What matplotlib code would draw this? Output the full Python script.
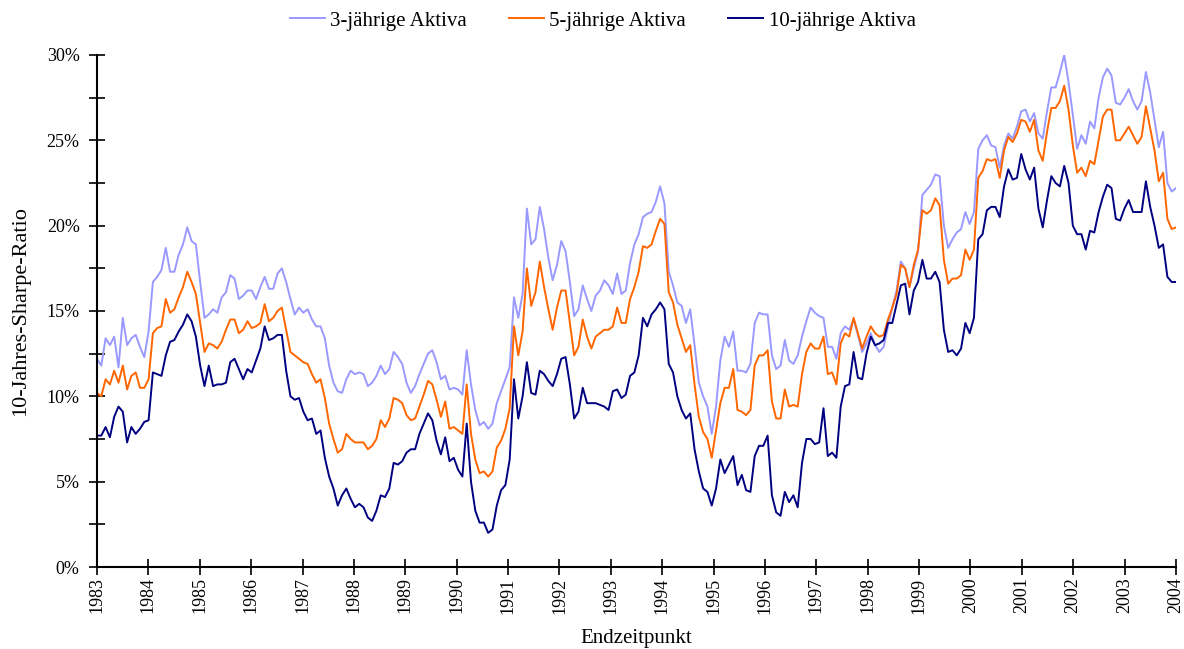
import numpy as np
import matplotlib
matplotlib.use("Agg")
import matplotlib.pyplot as plt
from matplotlib.ticker import MultipleLocator, FuncFormatter

# 10-year Sharpe ratios in %, monthly end dates Jan 1983 .. Jan 2004
aktiva_3j = [
    12.2, 11.8, 13.4, 13.0, 13.5, 11.7, 14.6, 13.0, 13.4, 13.6, 12.9, 12.3,
    13.8, 16.7, 17.0, 17.4, 18.7, 17.3, 17.3, 18.3, 18.9, 19.9, 19.1, 18.9,
    16.7, 14.6, 14.8, 15.1, 14.9, 15.8, 16.1, 17.1, 16.9, 15.7, 15.9, 16.2,
    16.2, 15.7, 16.4, 17.0, 16.3, 16.3, 17.2, 17.5, 16.7, 15.7, 14.8, 15.2,
    14.9, 15.1, 14.5, 14.1, 14.1,
    13.4, 11.8, 10.8, 10.3, 10.2, 11.0, 11.5, 11.3, 11.4, 11.3, 10.6, 10.8,
    11.2, 11.8, 11.3, 11.6, 12.6, 12.3, 11.9, 10.8, 10.2, 10.6, 11.3, 11.9,
    12.5, 12.7, 12.0, 11.0, 11.2, 10.4, 10.5, 10.4, 10.1, 12.7, 10.7, 9.2,
    8.3, 8.5, 8.1, 8.4, 9.6, 10.3, 11.0, 11.7,
    15.8, 14.6, 16.0, 21.0, 18.9, 19.2, 21.1, 19.8, 18.1, 16.8, 17.7, 19.1,
    18.5, 16.7, 14.7, 15.1, 16.5, 15.7, 15.0, 15.9, 16.2, 16.8, 16.5, 16.0,
    17.2, 16.0, 16.2, 17.8, 18.9, 19.5, 20.5, 20.7, 20.8, 21.4, 22.3, 21.3,
    17.3, 16.5, 15.5, 15.3, 14.3, 15.1, 13.0, 10.8, 10.0, 9.4, 7.8, 9.4,
    12.1, 13.5, 12.9, 13.8, 11.5,
    11.5, 11.4, 11.9, 14.3, 14.9, 14.8, 14.8, 12.4, 11.6, 11.8, 13.3, 12.1,
    11.9, 12.4, 13.5, 14.4, 15.2, 14.9, 14.7, 14.6, 12.9, 12.9, 12.2, 13.7,
    14.1, 13.9, 14.5, 13.6, 12.6, 13.1, 13.7, 13.0, 12.6, 12.9, 14.1, 15.2,
    16.2, 17.9, 17.5, 16.4, 17.5, 18.5, 21.8, 22.1, 22.4, 23.0, 22.9, 20.0,
    18.7,
    19.2, 19.6, 19.8, 20.8, 20.1, 20.8, 24.5, 25.0, 25.3, 24.7, 24.6, 23.4,
    24.7, 25.4, 25.1, 25.8, 26.7, 26.8, 26.1, 26.6, 25.4, 25.1, 26.7, 28.1,
    28.1, 29.0, 30.0, 28.4, 26.5, 24.5, 25.3, 24.8, 26.1, 25.7, 27.5, 28.7,
    29.2, 28.8, 27.2, 27.1, 27.5, 28.0, 27.3, 26.8, 27.3, 29.0, 27.8, 26.2,
    24.6, 25.5, 22.5, 22.0, 22.2,
]

aktiva_5j = [
    10.2, 10.0, 11.0, 10.7, 11.5, 10.8, 11.8, 10.4, 11.2, 11.4, 10.5, 10.5,
    11.0, 13.7, 14.0, 14.1, 15.7, 14.9, 15.1, 15.8, 16.4, 17.3, 16.7, 16.0,
    14.3, 12.6, 13.1, 13.0, 12.8, 13.2, 13.9, 14.5, 14.5, 13.7, 13.9, 14.4,
    14.0, 14.1, 14.3, 15.4, 14.4, 14.6, 15.0, 15.2, 13.9, 12.6, 12.4, 12.2,
    12.0, 11.9, 11.3, 10.8, 11.0,
    9.9, 8.4, 7.5, 6.7, 6.9, 7.8, 7.5, 7.3, 7.3, 7.3, 6.9, 7.1,
    7.5, 8.6, 8.2, 8.7, 9.9, 9.8, 9.6, 8.9, 8.6, 8.7, 9.4, 10.1,
    10.9, 10.7, 9.8, 8.8, 9.7, 8.1, 8.2, 8.0, 7.8, 10.7, 7.8, 6.3,
    5.5, 5.6, 5.3, 5.6, 7.0, 7.4, 8.1, 9.3,
    14.1, 12.4, 13.8, 17.5, 15.3, 16.1, 17.9, 16.4, 15.1, 13.9, 15.2, 16.2,
    16.2, 14.3, 12.4, 12.9, 14.5, 13.5, 12.8, 13.5, 13.7, 13.9, 13.9, 14.1,
    15.2, 14.3, 14.3, 15.7, 16.4, 17.3, 18.8, 18.7, 18.9, 19.7, 20.4, 20.1,
    16.1, 15.5, 14.2, 13.4, 12.6, 13.0, 10.7, 8.8, 7.9, 7.5, 6.4, 8.0,
    9.6, 10.5, 10.5, 11.6, 9.2,
    9.1, 8.9, 9.2, 11.8, 12.4, 12.4, 12.7, 9.7, 8.7, 8.7, 10.4, 9.4,
    9.5, 9.4, 11.3, 12.6, 13.1, 12.8, 12.8, 13.5, 11.3, 11.4, 10.7, 13.1,
    13.7, 13.5, 14.6, 13.7, 12.8, 13.5, 14.1, 13.7, 13.5, 13.6, 14.5, 15.2,
    16.0, 17.7, 17.5, 16.4, 17.7, 18.6, 20.9, 20.7, 20.9, 21.6, 21.2, 18.0,
    16.6,
    16.9, 16.9, 17.1, 18.6, 18.0, 18.6, 22.8, 23.2, 23.9, 23.8, 23.9, 22.8,
    24.4, 25.2, 24.9, 25.4, 26.2, 26.1, 25.5, 26.2, 24.4, 23.8, 25.5, 26.9,
    26.9, 27.3, 28.2, 26.8, 24.7, 23.1, 23.4, 22.9, 23.8, 23.6, 25.0, 26.4,
    26.8, 26.8, 25.0, 25.0, 25.4, 25.8, 25.3, 24.8, 25.2, 27.0, 25.7, 24.4,
    22.6, 23.1, 20.4, 19.8, 19.9,
]

aktiva_10j = [
    7.7, 7.7, 8.2, 7.6, 8.8, 9.4, 9.1, 7.3, 8.2, 7.8, 8.1, 8.5,
    8.6, 11.4, 11.3, 11.2, 12.4, 13.2, 13.3, 13.8, 14.2, 14.8, 14.4, 13.5,
    11.8, 10.6, 11.8, 10.6, 10.7, 10.7, 10.8, 12.0, 12.2, 11.6, 11.0, 11.6,
    11.4, 12.1, 12.8, 14.1, 13.3, 13.4, 13.6, 13.6, 11.5, 10.0, 9.8, 9.9,
    9.1, 8.6, 8.7, 7.8, 8.0,
    6.4, 5.3, 4.6, 3.6, 4.2, 4.6, 4.0, 3.5, 3.7, 3.5, 2.9, 2.7,
    3.3, 4.2, 4.1, 4.6, 6.1, 6.0, 6.2, 6.7, 6.9, 6.9, 7.8, 8.4,
    9.0, 8.6, 7.4, 6.6, 7.6, 6.2, 6.4, 5.7, 5.3, 8.4, 5.0, 3.3,
    2.6, 2.6, 2.0, 2.2, 3.6, 4.5, 4.8, 6.3,
    11.0, 8.7, 10.0, 12.0, 10.2, 10.1, 11.5, 11.3, 10.9, 10.6, 11.3, 12.2,
    12.3, 10.7, 8.7, 9.1, 10.5, 9.6, 9.6, 9.6, 9.5, 9.4, 9.2, 10.3,
    10.4, 9.9, 10.1, 11.2, 11.4, 12.4, 14.6, 14.1, 14.8, 15.1, 15.5, 15.1,
    11.9, 11.4, 10.0, 9.2, 8.7, 9.0, 6.9, 5.6, 4.6, 4.4, 3.6, 4.6,
    6.3, 5.5, 6.0, 6.5, 4.8,
    5.4, 4.5, 4.4, 6.5, 7.1, 7.1, 7.7, 4.2, 3.2, 3.0, 4.4, 3.8,
    4.2, 3.5, 6.1, 7.5, 7.5, 7.2, 7.3, 9.3, 6.5, 6.7, 6.4, 9.4,
    10.6, 10.7, 12.6, 11.1, 11.0, 12.5, 13.5, 13.0, 13.1, 13.3, 14.3, 14.3,
    15.4, 16.5, 16.6, 14.8, 16.2, 16.7, 18.0, 16.9, 16.9, 17.3, 16.7, 13.9,
    12.6,
    12.7, 12.4, 12.8, 14.3, 13.7, 14.6, 19.2, 19.5, 20.9, 21.1, 21.1, 20.5,
    22.3, 23.3, 22.7, 22.8, 24.2, 23.3, 22.7, 23.4, 21.0, 19.9, 21.5, 22.9,
    22.5, 22.3, 23.5, 22.5, 20.0, 19.5, 19.5, 18.6, 19.7, 19.6, 20.8, 21.7,
    22.4, 22.2, 20.4, 20.3, 21.0, 21.5, 20.8, 20.8, 20.8, 22.6, 21.1, 20.0,
    18.7, 18.9, 17.0, 16.7, 16.7,
]

labels = ["3-jährige Aktiva", "5-jährige Aktiva", "10-jährige Aktiva"]
colors = ["#9999FF", "#FF6600", "#000080"]
years = list(range(1983, 2005))

plt.rcParams["font.family"] = ["Liberation Serif", "DejaVu Serif"]

fig = plt.figure(figsize=(11.84, 6.49), dpi=100)
ax = fig.add_axes([97 / 1184, 1 - 567 / 649, (1176 - 97) / 1184, (567 - 55) / 649])

x = np.linspace(years[0], years[-1], len(aktiva_3j))
for series, lab, col in zip([aktiva_3j, aktiva_5j, aktiva_10j], labels, colors):
    ax.plot(x, np.array(series) / 100, color=col, lw=1.4, label=lab)

ax.set_xlim(years[0], years[-1])
ax.set_ylim(0, 0.30)
ax.set_xticks(years)
ax.set_xticklabels([str(y) for y in years], rotation=90, fontsize=13)
ax.yaxis.set_major_locator(MultipleLocator(0.05))
ax.yaxis.set_minor_locator(MultipleLocator(0.025))
ax.yaxis.set_major_formatter(FuncFormatter(lambda v, p: f"{v * 100:.0f}%"))
ax.tick_params(axis="both", which="both", direction="inout", length=11,
               width=1.2, colors="black")
ax.tick_params(axis="y", labelsize=13, pad=7)
ax.tick_params(axis="x", pad=2)

for side in ["top", "right"]:
    ax.spines[side].set_visible(False)
for side in ["left", "bottom"]:
    ax.spines[side].set_linewidth(1.5)

ax.set_ylabel("10-Jahres-Sharpe-Ratio", fontsize=16, labelpad=12)
ax.set_xlabel("Endzeitpunkt", fontsize=15, labelpad=11)

fig.legend(loc="center", bbox_to_anchor=(0.509, 0.968), ncol=3, frameon=False,
           fontsize=15, handlelength=1.7, handletextpad=0.25, columnspacing=2.0)

fig.savefig("out.png", dpi=100)
